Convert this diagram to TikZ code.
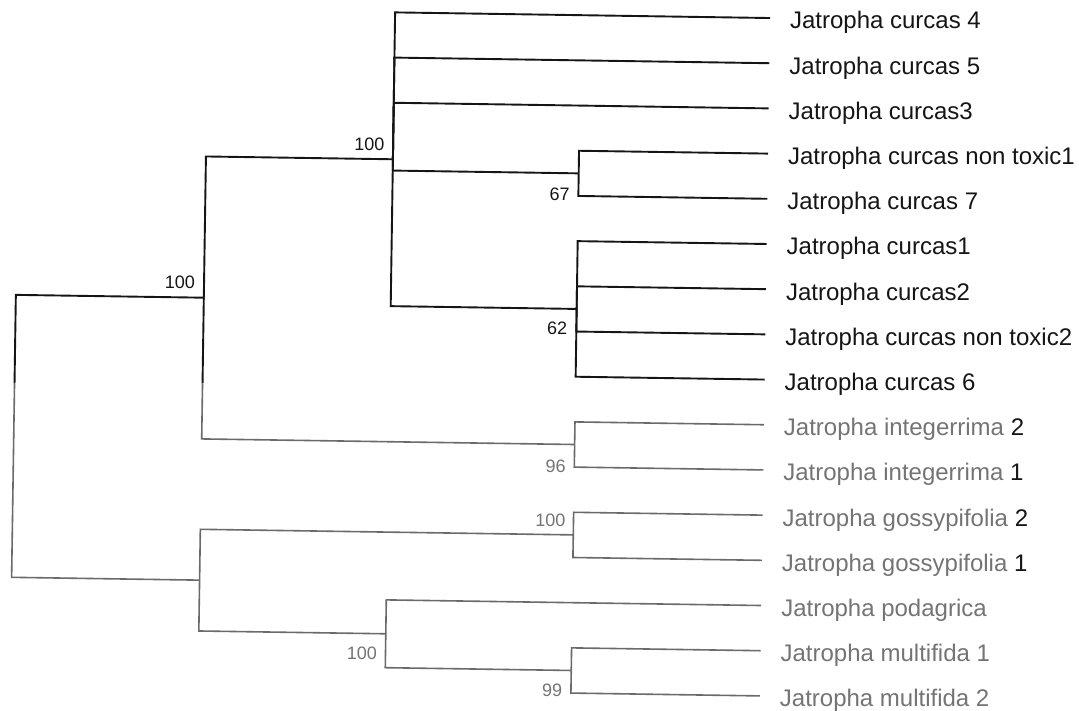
\documentclass[tikz,border=0pt]{standalone}
\usepackage{fontspec}
\setmainfont{Liberation Sans}
\definecolor{ink}{HTML}{151515}
\definecolor{grayline}{HTML}{6A6A6A}
\definecolor{graytext}{HTML}{747474}
\begin{document}
\begin{tikzpicture}[x=1pt,y=-1pt,
  blk/.style={draw=ink, line width=1.9pt},
  gry/.style={draw=grayline, line width=1.6pt},
  leaf/.style={anchor=base west, inner sep=0pt, font=\fontsize{24}{28}\selectfont},
  leafb/.style={leaf, text=ink},
  leafg/.style={leaf, text=graytext},
  boot/.style={anchor=east, inner sep=0pt, font=\fontsize{18}{21}\selectfont},
  bootb/.style={boot, text=ink},
  bootg/.style={boot, text=graytext}]
\useasboundingbox (0,0) rectangle (1079,710);
\begin{scope}[rotate around={-0.86:(540,355)}]
% leaf ends
\foreach \k in {0,...,15}{
  \coordinate (e\k) at (765,{14.6+45.2*\k});
}
% internal nodes
\coordinate (C) at (576,172.8);
\coordinate (D) at (576,308.4);
\coordinate (B) at (390,161.5);
\coordinate (E) at (576,444.0);
\coordinate (A) at (203,302.75);
\coordinate (As) at (203,388.4);
\coordinate (G) at (576,534.4);
\coordinate (I) at (576,670.0);
\coordinate (H) at (390,636.1);
\coordinate (F) at (203,585.25);
\coordinate (R) at (15,444);
\coordinate (Rs) at (15,391);
% black clade
\draw[blk] (B) |- (e0);
\draw[blk] (B) |- (e1);
\draw[blk] (B) |- (e2);
\draw[blk] (B) |- (C);
\draw[blk] (B) |- (D);
\draw[blk] (C) |- (e3);
\draw[blk] (C) |- (e4);
\draw[blk] (D) |- (e5);
\draw[blk] (D) |- (e6);
\draw[blk] (D) |- (e7);
\draw[blk] (D) |- (e8);
\draw[blk] (A) |- (B);
\draw[blk] (A) -- (As);
\draw[blk] (Rs) |- (A);
% gray part
\draw[gry] (As) |- (E);
\draw[gry] (Rs) -- (R);
\draw[gry] (R) |- (F);
\draw[gry] (E) |- (e9);
\draw[gry] (E) |- (e10);
\draw[gry] (F) |- (G);
\draw[gry] (F) |- (H);
\draw[gry] (G) |- (e11);
\draw[gry] (G) |- (e12);
\draw[gry] (H) |- (e13);
\draw[gry] (H) |- (I);
\draw[gry] (I) |- (e14);
\draw[gry] (I) |- (e15);
% leaf labels
\node[leafb] (n0) at ([xshift=20pt,yshift=-10.6pt]e0) {Jatropha curcas 4};
\node[leafb] (n1) at ([xshift=20pt,yshift=-10.6pt]e1) {Jatropha curcas 5};
\node[leafb] (n2) at ([xshift=20pt,yshift=-10.6pt]e2) {Jatropha curcas3};
\node[leafb] (n3) at ([xshift=20pt,yshift=-10.6pt]e3) {Jatropha curcas non toxic1};
\node[leafb] (n4) at ([xshift=20pt,yshift=-10.6pt]e4) {Jatropha curcas 7};
\node[leafb] (n5) at ([xshift=20pt,yshift=-10.6pt]e5) {Jatropha curcas1};
\node[leafb] (n6) at ([xshift=20pt,yshift=-10.6pt]e6) {Jatropha curcas2};
\node[leafb] (n7) at ([xshift=20pt,yshift=-10.6pt]e7) {Jatropha curcas non toxic2};
\node[leafb] (n8) at ([xshift=20pt,yshift=-10.6pt]e8) {Jatropha curcas 6};
\node[leafg] (n9) at ([xshift=20pt,yshift=-10.6pt]e9) {Jatropha integerrima \textcolor{ink}{2}};
\node[leafg] (n10) at ([xshift=20pt,yshift=-10.6pt]e10) {Jatropha integerrima \textcolor{ink}{1}};
\node[leafg] (n11) at ([xshift=20pt,yshift=-10.6pt]e11) {Jatropha gossypifolia \textcolor{ink}{2}};
\node[leafg] (n12) at ([xshift=20pt,yshift=-10.6pt]e12) {Jatropha gossypifolia \textcolor{ink}{1}};
\node[leafg] (n13) at ([xshift=20pt,yshift=-10.6pt]e13) {Jatropha podagrica};
\node[leafg] (n14) at ([xshift=20pt,yshift=-10.6pt]e14) {Jatropha multifida 1};
\node[leafg] (n15) at ([xshift=20pt,yshift=-10.6pt]e15) {Jatropha multifida 2};
% bootstrap values
\node[bootb] (bA) at (194,287) {100};
\node[bootb] (bB) at (381.5,146.6) {100};
\node[bootb] (bC) at (567.5,194) {67};
\node[bootb] (bD) at (567,328) {62};
\node[bootg] (bE) at (567.5,465.5) {96};
\node[bootg] (bG) at (568,519.7) {100};
\node[bootg] (bH) at (381.5,655.7) {100};
\node[bootg] (bI) at (567.4,690.2) {99};
\end{scope}
\end{tikzpicture}
\end{document}
